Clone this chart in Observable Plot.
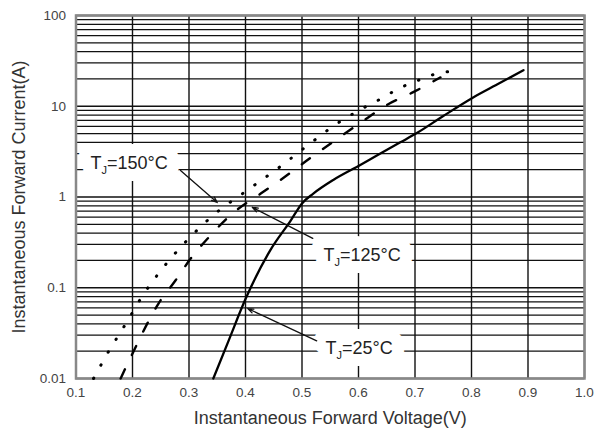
<!DOCTYPE html>
<html>
<head>
<meta charset="utf-8">
<script src="https://cdn.jsdelivr.net/npm/d3@7"></script>
<script src="https://cdn.jsdelivr.net/npm/@observablehq/plot@0.6"></script>
<style>
  html, body { margin: 0; padding: 0; background: white; }
</style>
</head>
<body>
<div id="chart"></div>
<script>
// ---- data ----
const voltage25 = [0.343, 0.37, 0.40, 0.444, 0.48, 0.50, 0.52, 0.556, 0.60, 0.634, 0.674, 0.704, 0.75, 0.80, 0.85, 0.892];
const current25 = [0.01, 0.026, 0.075, 0.26, 0.55, 0.85, 1.09, 1.55, 2.2, 2.9, 4.0, 5.1, 7.8, 12.2, 18, 25];

const voltage125 = [0.179, 0.202, 0.246, 0.276, 0.303, 0.335, 0.377, 0.427, 0.468, 0.515, 0.563, 0.607, 0.651, 0.696, 0.745];
const current125 = [0.01, 0.02, 0.067, 0.12, 0.21, 0.36, 0.66, 1.09, 1.64, 2.7, 4.4, 6.8, 10.4, 14.2, 20.8];

const voltage150 = [0.131, 0.158, 0.188, 0.218, 0.253, 0.294, 0.347, 0.40, 0.457, 0.51, 0.563, 0.591, 0.618, 0.644, 0.671, 0.697, 0.727, 0.777];
const current150 = [0.01, 0.02, 0.04, 0.082, 0.163, 0.32, 0.66, 1.15, 2.06, 3.7, 6.5, 8.3, 10.3, 12.5, 15.7, 18.3, 21.8, 24.8];

const voltageTicks = [0.1, 0.2, 0.3, 0.4, 0.5, 0.6, 0.7, 0.8, 0.9, 1.0];
const currentTicks = [0.01, 0.1, 1, 10, 100];
const gridMultipliers = [1, 2, 3, 4, 5, 6, 7, 8, 9];

const labelTemps = ["150", "125", "25"];
const labelVoltage = [0.1257, 0.538, 0.5416];
const labelCurrent = [2.34, 0.226, 0.0214];
const leaderFromV = [0.285, 0.519, 0.526];
const leaderFromI = [1.96, 0.35, 0.026];
const leaderToV = [0.35, 0.412, 0.404];
const leaderToI = [0.87, 0.77, 0.059];

const xTitle = "Instantaneous Forward Voltage(V)";
const yTitle = "Instantaneous Forward Current(A)";

// ---- tables built from the arrays ----
const zipSeries = (vs, is) => vs.map((v, k) => ({v, i: is[k]}));
const s25 = zipSeries(voltage25, current25);
const s125 = zipSeries(voltage125, current125);
const s150 = zipSeries(voltage150, current150);

const gridCurrents = [];
for (const decade of [0.01, 0.1, 1, 10]) for (const m of gridMultipliers) gridCurrents.push(+(m * decade).toPrecision(3));
gridCurrents.push(100);

const labels = labelTemps.map((t, k) => ({temp: t, v: labelVoltage[k], i: labelCurrent[k]}));
const leaders = labelTemps.map((t, k) => ({x1: leaderFromV[k], y1: leaderFromI[k], x2: leaderToV[k], y2: leaderToI[k]}));

const font = "'Liberation Sans', Arial, Helvetica, sans-serif";
const labelText = d => "TJ=" + d.temp + "°C";

const chart = Plot.plot({
  width: 595,
  height: 432,
  marginLeft: 75.5,
  marginRight: 11,
  marginTop: 15,
  marginBottom: 54,
  style: {fontFamily: font, background: "white", color: "#333"},
  x: {domain: [0.1, 1.0], label: null},
  y: {type: "log", domain: [0.01, 100], label: null},
  marks: [
    Plot.ruleY(gridCurrents, {stroke: "#111", strokeWidth: 1.3}),
    Plot.ruleX(voltageTicks, {stroke: "#111", strokeWidth: 1.4}),
    // white boxes behind the labels (halo only)
    Plot.text(labels, {
      x: "v", y: "i", text: labelText,
      textAnchor: "start", fill: "white", stroke: "white", strokeWidth: 24,
      strokeLinejoin: "round", fontSize: 18
    }),
    Plot.frame({stroke: "#888", strokeWidth: 2.5}),
    Plot.text(labels, {
      x: "v", y: "i", text: labelText,
      textAnchor: "start", fill: "#222", fontSize: 18
    }),
    Plot.line(s25, {x: "v", y: "i", stroke: "#000", strokeWidth: 2.3, curve: "monotone-x"}),
    Plot.line(s125, {x: "v", y: "i", stroke: "#000", strokeWidth: 2.4, strokeDasharray: "10,16", curve: "monotone-x"}),
    Plot.line(s150, {x: "v", y: "i", stroke: "#000", strokeWidth: 3, strokeDasharray: "0.5,14.5", strokeLinecap: "round", curve: "monotone-x"}),
    Plot.arrow(leaders, {x1: "x1", y1: "y1", x2: "x2", y2: "y2", stroke: "#111", strokeWidth: 1.3, headLength: 7, headAngle: 40}),
    Plot.axisX(voltageTicks, {tickSize: 0, tickPadding: 9, tickFormat: d3.format(".1f"), fontSize: 13.5, fill: "#444", label: null}),
    Plot.axisY(currentTicks, {tickSize: 0, tickPadding: 10, tickFormat: d => String(d), fontSize: 13.5, fill: "#444", label: null}),
    Plot.text([xTitle], {frameAnchor: "bottom", dy: 40, textAnchor: "middle", lineAnchor: "middle", text: d => d, fontSize: 18, fill: "#333"}),
    Plot.text([yTitle], {frameAnchor: "left", dx: -57, rotate: -90, textAnchor: "middle", lineAnchor: "middle", text: d => d, fontSize: 18, fill: "#333"})
  ]
});

document.getElementById("chart").appendChild(chart);

// subscript J in the T_J labels
d3.select(chart).selectAll("text").each(function() {
  const content = this.textContent;
  if (!content.startsWith("TJ=")) return;
  const t = d3.select(this);
  t.text(null);
  t.append("tspan").text("T");
  t.append("tspan").attr("font-size", 11).attr("dy", 5).text("J");
  t.append("tspan").attr("dy", -5).text(content.slice(2));
});
</script>
</body>
</html>
